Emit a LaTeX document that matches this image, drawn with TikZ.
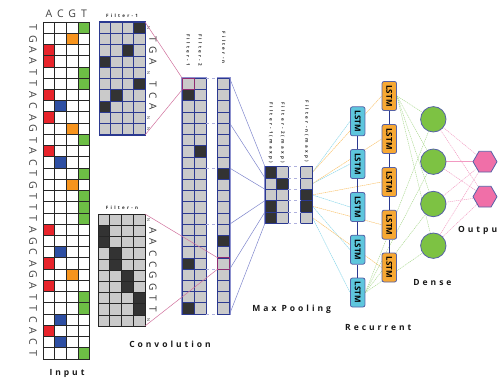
\documentclass[tikz,border=0pt]{standalone}
\usepackage{fontspec}
\setmainfont{Open Sans}
\newfontfamily\spacedfont[LetterSpace=35]{Open Sans}
\newfontfamily\tspacedfont[LetterSpace=50]{Open Sans}
\usetikzlibrary{shapes.geometric}
\definecolor{navy}{HTML}{2B3990}
\definecolor{cellgray}{HTML}{CACACA}
\definecolor{darkcell}{HTML}{333333}
\definecolor{lavender}{HTML}{8C90CE}
\definecolor{col0}{HTML}{E8242B}
\definecolor{col1}{HTML}{2E4FA3}
\definecolor{col2}{HTML}{F7941D}
\definecolor{col3}{HTML}{6DBE45}
\definecolor{hlpurple}{HTML}{8E2B72}
\definecolor{pinkline}{HTML}{D0709C}
\definecolor{bluelink}{HTML}{7F86CC}
\definecolor{lstmcyan}{HTML}{5EC6DD}
\definecolor{lstmorange}{HTML}{F7A833}
\definecolor{densegreen}{HTML}{7DC243}
\definecolor{outpink}{HTML}{F06FA8}
\definecolor{cyanlink}{HTML}{8ED8EA}
\definecolor{orangelink}{HTML}{F9C470}
\definecolor{greenlink}{HTML}{A6D68A}
\definecolor{pinklink}{HTML}{F29AC2}
\pgfdeclarelayer{bg}
\pgfsetlayers{bg,main}
\newcommand{\mkgrid}[8]{%
  \foreach \cc in {1,...,#5}{\foreach \rr in {1,...,#6}{%
    \filldraw[#7] ({#1+(\cc-1)*#3},{#2+(\rr-1)*#4}) rectangle ++(#3,#4);}}%
  \foreach \cc/\rr in {#8}{%
    \filldraw[#7,fill=darkcell] ({#1+\cc*#3},{#2+\rr*#4}) rectangle ++(#3,#4);}%
}
\tikzset{
  ingrid/.style={draw=black!85, line width=0.8pt},
  seq/.style={rotate=-90, inner sep=0pt, text=black!75, font=\fontsize{10.5}{12}\selectfont},
  hdr/.style={inner sep=0pt, text=black!75, font=\fontsize{10.5}{12}\selectfont},
  bigl/.style={rotate=-90, inner sep=0pt, text=black!80, font=\fontsize{10}{12}\selectfont},
  smalll/.style={rotate=-90, inner sep=0pt, text=black!80, font=\fontsize{4}{5}\selectfont},
  sect/.style={inner sep=0pt, text=black!90, font=\spacedfont\bfseries\fontsize{8.5}{10}\selectfont},
  tlbl/.style={inner sep=0pt, text=black!85, font=\tspacedfont\bfseries\fontsize{4.5}{5}\selectfont},
  f1cell/.style={fill=cellgray, draw=navy, line width=0.6pt},
  fncell/.style={fill=cellgray, draw=black!85, line width=0.6pt},
  cvcell/.style={fill=cellgray, draw=navy, line width=0.6pt},
  outerlav/.style={draw=lavender, line width=2pt},
  gapline/.style={draw=lavender!70, line width=0.7pt, dashed},
  hl/.style={draw=hlpurple, line width=0.9pt},
  pinkconn/.style={draw=pinkline, line width=0.5pt},
  blueconn/.style={draw=bluelink, line width=0.5pt},
  lstmbase/.style={rectangle, rounded corners=2pt, rotate=-90, minimum width=29pt, minimum height=14.5pt, inner sep=1pt, draw=navy!80, line width=0.8pt, font=\bfseries\fontsize{8}{9}\selectfont},
  lstmc/.style={lstmbase, fill=lstmcyan},
  lstmo/.style={lstmbase, fill=lstmorange},
  dense/.style={circle, minimum size=25.4pt, inner sep=0pt, fill=densegreen, draw=navy!80, line width=0.8pt},
  outn/.style={regular polygon, regular polygon sides=6, minimum size=24pt, inner sep=0pt, fill=outpink, draw=navy!80, line width=0.8pt},
  vlink/.style={draw=navy, line width=0.8pt},
  clink/.style={draw=cyanlink, line width=0.5pt, dash pattern=on 1.5pt off 0.6pt},
  olink/.style={draw=orangelink, line width=0.5pt, dash pattern=on 1.5pt off 0.6pt},
  glink/.style={draw=greenlink, line width=0.45pt, dash pattern=on 1.2pt off 0.8pt},
  plink/.style={draw=pinklink, line width=0.45pt, dash pattern=on 1.2pt off 0.8pt}
}
\begin{document}
\begin{tikzpicture}[x=1pt,y=-1pt]
\useasboundingbox (0,0) rectangle (500,382);
\clip (0,0) rectangle (500,382);
% ---------- Input ----------
\foreach \c [count=\i from 0] in {3,2,0,0,3,3,0,1,0,2,3,0,1,3,2,3,3,3,0,-1,1,0,2,0,3,3,1,0,1,3}{%
  \ifnum\c>-1 \fill[fill=col\c] ({43+\c*11.7},{22+\i*11.23}) rectangle ++(11.7,11.23);\fi
}
\foreach \k in {0,...,30} \draw[ingrid] (43,{22+\k*11.23}) -- (89.8,{22+\k*11.23});
\foreach \k in {0,...,4} \draw[ingrid] ({43+\k*11.7},22) -- ({43+\k*11.7},358.9);
\foreach \s [count=\i from 0] in {T,G,A,A,T,T,A,C,A,G,T,A,C,T,G,T,T,T,A,G,C,A,G,A,T,T,C,A,C,T}
  \node[seq] (s\i) at (33,{22+(\i+0.5)*11.23}) {\s};
\foreach \s [count=\i from 0] in {A,C,G,T}
  \node[hdr] (h\i) at ({48.85+\i*11.7},14) {\s};
\node[sect] (linput) at (67,373) {Input};
% ---------- Filters ----------
\mkgrid{99}{22}{11.5}{11.3}{4}{10}{f1cell}{3/0,2/2,0/3,3/5,1/6,0/7}
\draw[navy, line width=1pt] (99,22) rectangle (145,135);
\node[tlbl] (lf1) at (122,16) {Filter-1};
\foreach \r/\s in {1/T,2/G,3/A,5/T,6/C,7/A}
  \node[bigl] (fa\r) at (153,{22+(\r+0.5)*11.3}) {\s};
\foreach \r in {0,4,8,9}
  \node[smalll] (fan\r) at (148.5,{22+(\r+0.5)*11.3}) {N};
\mkgrid{98}{214}{11.75}{11.2}{4}{10}{fncell}{0/1,0/2,1/3,1/4,2/5,2/6,3/7,3/8}
\draw[black!85, line width=1pt] (98,214) rectangle (145,326);
\node[tlbl] (lfn) at (122,208) {Filter-n};
\foreach \r/\s in {1/A,2/A,3/C,4/C,5/G,6/G,7/T,8/T}
  \node[bigl] (fb\r) at (153,{214+(\r+0.5)*11.2}) {\s};
\foreach \r in {0,9}
  \node[smalll] (fbn\r) at (148.5,{214+(\r+0.5)*11.2}) {N};
% ---------- Convolution ----------
\draw[outerlav] (182.3,78.3) rectangle (206.3,313.9);
\draw[outerlav] (217.7,78.3) rectangle (229.7,313.9);
\mkgrid{182.3}{78.3}{12}{11.22}{2}{21}{cvcell}{0/1,0/16,0/20,1/6}
\mkgrid{217.7}{78.3}{12}{11.22}{1}{21}{cvcell}{0/8,0/14}
\foreach \k in {0,4,8,13,17,21}
  \draw[gapline] (206.3,{78.3+\k*11.22}) -- (217.7,{78.3+\k*11.22});
\draw[hl] (182.3,78.3) rectangle ++(12,11.22);
\draw[hl] (217.7,{78.3+16*11.22}) rectangle ++(12,11.22);
\node[tlbl, rotate=-90, anchor=east] (lc1) at (188.3,66) {Filter-1};
\node[tlbl, rotate=-90, anchor=east] (lc2) at (200.3,66) {Filter-2};
\node[tlbl, rotate=-90, anchor=east] (lcn) at (223.7,64) {Filter-n};
\node[sect] (lconv) at (170,344) {Convolution};
% filter -> conv connectors
\coordinate (f1tr) at (145,22);
\coordinate (f1br) at (145,135);
\coordinate (c1tl) at (182.3,78.3);
\coordinate (c1bl) at (182.3,89.52);
\coordinate (fntr) at (145,214);
\coordinate (fnbr) at (145,326);
\coordinate (cntl) at (217.7,257.82);
\coordinate (cnbl) at (217.7,269.04);
\draw[pinkconn] (f1tr) -- (c1tl);
\draw[pinkconn] (f1br) -- (c1bl);
\draw[pinkconn] (fntr) -- (cntl);
\draw[pinkconn] (fnbr) -- (cnbl);
% ---------- Max pooling ----------
\draw[outerlav] (265,166.7) rectangle (288.4,223.2);
\draw[outerlav] (300.7,166.7) rectangle (312.4,223.2);
\mkgrid{265}{166.7}{11.7}{11.3}{2}{5}{cvcell}{0/0,0/3,0/4,1/1}
\mkgrid{300.7}{166.7}{11.7}{11.3}{1}{5}{cvcell}{0/2,0/3}
\foreach \k in {0,...,5}
  \draw[gapline] (288.4,{166.7+\k*11.3}) -- (300.7,{166.7+\k*11.3});
\node[tlbl, rotate=-90, anchor=east] (lm1) at (270.85,163) {Filter-1(maxp)};
\node[tlbl, rotate=-90, anchor=east] (lm2) at (282.55,163) {Filter-2(maxp)};
\node[tlbl, rotate=-90, anchor=east] (lmn) at (306.55,162) {Filter-n(maxp)};
\node[sect] (lmax) at (291.7,309) {Max Pooling};
\foreach \k/\j [count=\n from 0] in {0/0,4/1,8/2,13/3,17/4,21/5}{
  \coordinate (cvr\n) at (229.7,{78.3+\k*11.22});
  \coordinate (mpl\n) at (265,{166.7+\j*11.3});
  \draw[blueconn] (cvr\n) -- (mpl\n);
}
% ---------- LSTM ----------
\foreach \i/\y in {0/121.3,1/164,2/207,3/249.7,4/292.5}
  \node[lstmc] (r\i) at (357.7,\y) {LSTM};
\foreach \i/\y in {0/96,1/139,2/182,3/224.7,4/267.5}
  \node[lstmo] (o\i) at (389.3,\y) {LSTM};
\draw[vlink] (r0) -- (r1); \draw[vlink] (r1) -- (r2); \draw[vlink] (r2) -- (r3); \draw[vlink] (r3) -- (r4);
\draw[vlink] (o0) -- (o1); \draw[vlink] (o1) -- (o2); \draw[vlink] (o2) -- (o3); \draw[vlink] (o3) -- (o4);
\node[sect] (lrec) at (378.3,328) {Recurrent};
% ---------- Dense / Output ----------
\foreach \i/\y in {0/119.3,1/161.7,2/204,3/245.7}
  \node[dense] (d\i) at (433.3,\y) {};
\node[outn] (y0) at (485,161.7) {};
\node[outn] (y1) at (485,196.7) {};
\node[sect] (ldense) at (432.5,282.7) {Dense};
\node[sect, anchor=west] (lout) at (458,230.7) {Output};
% ---------- connectors on background ----------
\begin{pgfonlayer}{bg}
\foreach \i in {0,...,4}{
  \coordinate (mpr\i) at (312.4,{166.7+(\i+0.5)*11.3});
  \draw[clink] (mpr\i) -- (r\i.south);
  \draw[olink] (mpr\i) -- (o\i.south);
}
\foreach \j in {0,...,3}{
  \draw[glink] (o0.north) -- (d\j);
  \draw[glink] (r4.north) -- (d\j);
  \draw[plink] (d\j) -- (y0);
  \draw[plink] (d\j) -- (y1);
}
\end{pgfonlayer}
\end{tikzpicture}
\end{document}
